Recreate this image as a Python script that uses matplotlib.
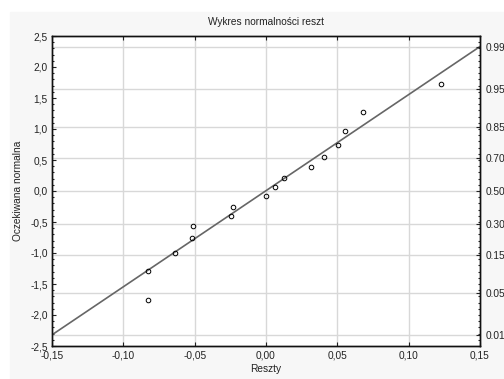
import numpy as np
import matplotlib
matplotlib.use('Agg')
import matplotlib.pyplot as plt
from matplotlib.ticker import FuncFormatter, MultipleLocator
from matplotlib.patches import Rectangle
from statistics import NormalDist

plt.rcParams['font.family'] = ['Liberation Sans', 'DejaVu Sans']

# residuals vs expected normal values
residuals = [-0.0827, -0.0827, -0.0638, -0.0517, -0.0510, -0.0248, -0.0230,
             0.0000, 0.0065, 0.0126, 0.0313, 0.0406, 0.0506, 0.0553,
             0.0682, 0.1224]
expected = [-1.285, -1.753, -0.995, -0.763, -0.569, -0.403, -0.253,
            -0.085, 0.065, 0.215, 0.382, 0.548, 0.737, 0.973,
            1.269, 1.731]

# reference line
line_slope = 15.5
line_intercept = 0.005

x_ticks = [-0.15, -0.10, -0.05, 0.00, 0.05, 0.10, 0.15]
y_ticks = [-2.5, -2.0, -1.5, -1.0, -0.5, 0.0, 0.5, 1.0, 1.5, 2.0, 2.5]
prob_ticks = [0.01, 0.05, 0.15, 0.30, 0.50, 0.70, 0.85, 0.95, 0.99]

title = 'Wykres normalności reszt'
xlabel = 'Reszty'
ylabel = 'Oczekiwana normalna'

FS = 7.3

fig = plt.figure(figsize=(5.04, 3.79), dpi=100)
fig.patches.append(Rectangle((10 / 504, 0), 1, 1 - 12 / 379,
                             transform=fig.transFigure, color='#f7f7f7',
                             zorder=-10))
ax = fig.add_axes([52 / 504, 1 - 346 / 379, 428 / 504, 310 / 379])

z_ticks = [NormalDist().inv_cdf(p) for p in prob_ticks]

ax.set_xlim(-0.15, 0.15)
ax.set_ylim(-2.5, 2.5)

# grid: vertical at x ticks, horizontal at the probability levels
for xv in x_ticks[1:-1]:
    ax.axvline(xv, color='#d8d8d8', lw=1.0, zorder=0)
for zv in z_ticks:
    ax.axhline(zv, color='#d8d8d8', lw=1.0, zorder=0)

xx = np.array(ax.get_xlim())
ax.plot(xx, line_slope * xx + line_intercept, color='#666666', lw=1.2,
        zorder=2)
ax.plot(residuals, expected, 'o', ms=3.3, mfc='none', mec='black',
        mew=0.7, zorder=3)

comma = lambda fmt: FuncFormatter(lambda v, p: (fmt % v).replace('.', ','))
ax.set_xticks(x_ticks)
ax.set_yticks(y_ticks)
ax.xaxis.set_major_formatter(comma('%.2f'))
ax.yaxis.set_major_formatter(comma('%.1f'))
ax.yaxis.set_minor_locator(MultipleLocator(0.1))
ax.tick_params(axis='both', which='both', direction='in', labelsize=FS,
               colors='#222222', width=0.8)
ax.tick_params(axis='x', top=True, length=3, pad=3)
ax.tick_params(axis='y', which='major', length=3, pad=3)
ax.tick_params(axis='y', which='minor', length=1.5)

ax2 = ax.twinx()
ax2.set_ylim(ax.get_ylim())
ax2.set_yticks(z_ticks)
ax2.set_yticklabels(['%.2f' % p for p in prob_ticks])
ax2.yaxis.set_minor_locator(MultipleLocator(0.1))
ax2.tick_params(axis='y', which='both', direction='in', labelsize=FS,
                colors='#222222', width=0.8)
ax2.tick_params(axis='y', which='major', length=3, pad=4)
ax2.tick_params(axis='y', which='minor', length=1.5)

for a in (ax, ax2):
    for s in a.spines.values():
        s.set_linewidth(1.0)
        s.set_color('#111111')

ax.set_title(title, fontsize=FS, pad=8, color='#222222')
ax.set_xlabel(xlabel, fontsize=FS, labelpad=3, color='#222222')
ax.set_ylabel(ylabel, fontsize=FS, labelpad=5, color='#222222')

fig.savefig('out.png', dpi=100)
